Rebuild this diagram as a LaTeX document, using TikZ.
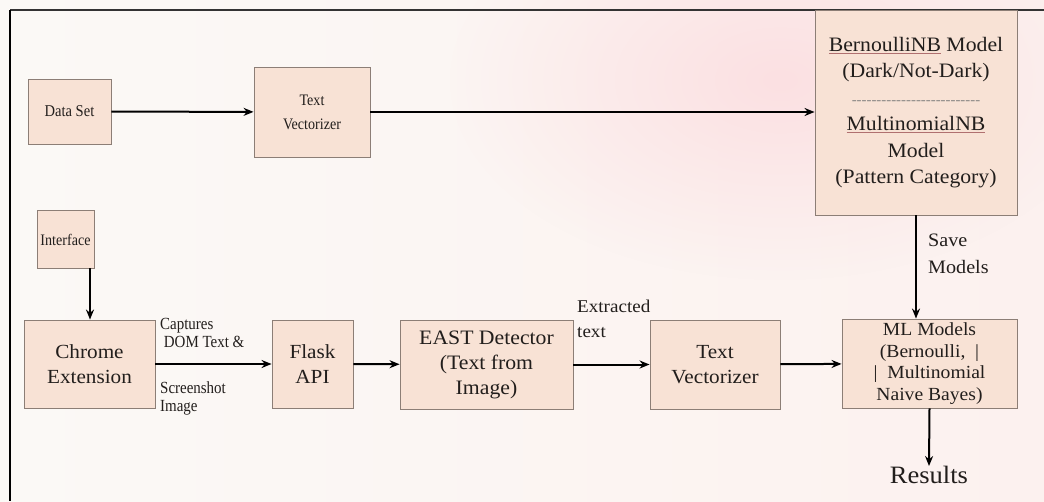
\documentclass[tikz,border=0pt]{standalone}
\usepackage{fontspec}
\setmainfont{Liberation Serif}[FakeStretch=1.06]
\newfontfamily\condfont{Liberation Serif}[FakeStretch=0.88]
\usetikzlibrary{arrows.meta,fadings}
\tikzfading[name=myfade, inner color=transparent!0, outer color=transparent!100]
\definecolor{boxfill}{HTML}{F8E2D5}
\definecolor{boxline}{HTML}{8C7E76}
\definecolor{txt}{HTML}{221E1C}
\definecolor{bgL}{HTML}{FBF9F6}
\definecolor{bgR}{HTML}{FCF1EF}
\definecolor{bgPink}{HTML}{FBE0E2}
\definecolor{ulcol}{HTML}{B07070}
\newcommand{\fs}[2]{\fontsize{#1}{#2}\selectfont}
\newcommand{\ulr}[1]{{\color{ulcol}\underline{\color{txt}#1}}}
\begin{document}
\begin{tikzpicture}[x=1pt,y=-1pt,
  box/.style={draw=boxline, line width=0.9pt, fill=boxfill, text=txt, align=center, inner sep=0pt},
  lbl/.style={text=txt, align=left, inner sep=0pt},
  arr/.style={-{Stealth[length=10pt,width=8pt]}, line width=2pt, draw=black}]
\useasboundingbox (0,0) rectangle (1044,501);
% background
\shade[left color=bgL, right color=bgR] (0,0) rectangle (1044,501);
\fill[bgPink, path fading=myfade] (780,80) ellipse (330 and 200);
% frame
\draw[line width=1.5pt, black!80] (10,10) -- (1044,10);
\draw[line width=2pt, black] (10,10) -- (10,501);
% top row
\node[box, minimum width=83pt, minimum height=65pt, font=\condfont\fs{16.5}{20}] (ds) at (69.5,111.5) {Data Set};
\node[box, minimum width=116pt, minimum height=90pt, font=\condfont\fs{16}{24}] (tv1) at (312,112) {Text\\Vectorizer};
\node[box, minimum width=202pt, minimum height=205pt, font=\fs{20.5}{26.5}] (nb) at (916,112.5)
  {\ulr{BernoulliNB} Model\\(Dark/Not-Dark)\\{\color{txt!55}\fs{14}{26.5}-{}-{}-{}-{}-{}-{}-{}-{}-{}-{}-{}-{}-{}-{}-{}-{}-{}-{}-{}-{}-{}-{}-{}-{}-{}-}\\\ulr{MultinomialNB}\\Model\\(Pattern Category)};
% interface
\node[box, minimum width=57pt, minimum height=58pt, font=\condfont\fs{16}{20}] (intf) at (65.5,239.5) {Interface};
\coordinate (intfout) at (90,268);
% bottom row
\node[box, minimum width=131pt, minimum height=88pt, font=\fs{20}{25}] (ce) at (89.5,364) {Chrome\\Extension};
\node[box, minimum width=81pt, minimum height=88pt, font=\fs{20}{25}] (fl) at (312.5,364) {Flask\\API};
\node[box, minimum width=173pt, minimum height=89pt, font=\fs{20.5}{25}] (east) at (486.5,364.5) {EAST Detector\\(Text from\\Image)};
\node[box, minimum width=130pt, minimum height=89pt, font=\fs{20}{25}] (tv2) at (715,364.5) {Text\\Vectorizer};
\node[box, minimum width=175pt, minimum height=89pt, font=\fs{18.5}{21.5}] (ml) at (929.5,363.5) {ML Models\\(Bernoulli,\ \ |\\|\ \ Multinomial\\Naive Bayes)};
\node[text=txt, inner sep=0pt, font=\fs{25}{30}] (res) at (929,475) {Results};
% labels
\node[lbl, anchor=north west, font=\condfont\fs{17}{18}] (lcap) at (160,318) {Captures\\\ DOM Text \&};
\node[lbl, anchor=north west, font=\condfont\fs{17}{18}] (lscr) at (160,381) {Screenshot\\Image};
\node[lbl, anchor=north west, font=\fs{18}{25}] (lext) at (577,300) {Extracted\\text};
\node[lbl, anchor=north west, font=\fs{19}{27}] (lsave) at (928,234) {Save\\Models};
% connectors
\draw[arr] (ds) -- (tv1);
\draw[arr] (tv1) -- (nb.west |- tv1);
\draw[arr] (intfout) -- (intfout |- ce.north);
\draw[arr] (ce) -- (fl);
\draw[arr] (fl) -- (east);
\draw[arr] (east) -- (tv2);
\draw[arr] (tv2) -- (ml);
\draw[arr] (nb.south) -- (nb.south |- ml.north);
\draw[arr] (ml.south) -- (res.north);
\end{tikzpicture}
\end{document}
